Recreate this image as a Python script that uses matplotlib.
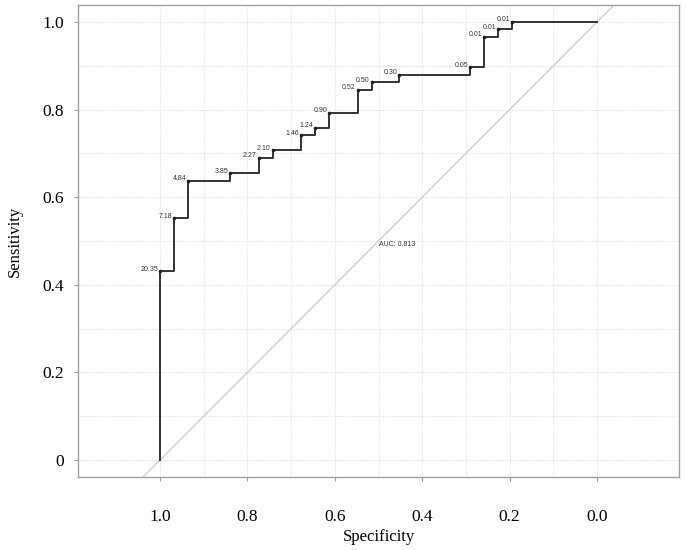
import matplotlib
matplotlib.use('Agg')
import matplotlib.pyplot as plt
import numpy as np

# ROC curve (corner points of each step)
specificity = [1.0, 1.0, 0.968, 0.935, 0.839, 0.774, 0.742, 0.677, 0.645,
               0.613, 0.548, 0.516, 0.452, 0.290, 0.258, 0.226, 0.194, 0.0]
sensitivity = [0.0, 0.431, 0.552, 0.638, 0.655, 0.690, 0.707, 0.741, 0.759,
               0.793, 0.845, 0.862, 0.879, 0.897, 0.966, 0.983, 1.0, 1.0]
thresholds = ['20.35', '7.18', '4.84', '3.85', '2.27', '2.10', '1.46', '1.24',
              '0.90', '0.52', '0.50', '0.30', '0.05', '0.01', '0.01', '0.01']
auc_text = 'AUC: 0.813'

tick_vals = [1.0, 0.8, 0.6, 0.4, 0.2, 0.0]
x_tick_labels = ['1.0', '0.8', '0.6', '0.4', '0.2', '0.0']
y_tick_labels = ['0', '0.2', '0.4', '0.6', '0.8', '1.0']
grid_vals = np.round(np.arange(0, 1.01, 0.1), 1)

fig = plt.figure(figsize=(6.86, 5.5), dpi=100)
ax = fig.add_axes([0.1137, 0.1327, 0.8761, 0.8582])

for g in grid_vals:
    ax.axvline(g, color='#e2e2e2', lw=0.8, ls=(0, (1, 1)), zorder=0)
    ax.axhline(g, color='#e2e2e2', lw=0.8, ls=(0, (1, 1)), zorder=0)

ax.axline((1, 0), (0, 1), color='#c8c8c8', lw=0.9, zorder=1)

ax.plot(specificity, sensitivity, drawstyle='steps-post', color='#333333',
        lw=1.4, zorder=2)

pts_x = specificity[1:-1]
pts_y = sensitivity[1:-1]
ax.plot(pts_x, pts_y, 'o', color='#222222', ms=1.6, zorder=3)
for x, y, t in zip(pts_x, pts_y, thresholds):
    ax.annotate(t, (x, y), xytext=(-1.5, 1.5), textcoords='offset points',
                ha='right', va='center', fontsize=5, color='#333333',
                family='Liberation Sans')

ax.text(0.499, 0.493, auc_text, ha='left', va='center', fontsize=5,
        color='#333333', family='Liberation Sans')

ax.set_xlim(1.1876, -0.1876)
ax.set_ylim(-0.0388, 1.0388)

ax.set_xticks(tick_vals)
ax.set_xticklabels(x_tick_labels)
ax.set_yticks(tick_vals[::-1])
ax.set_yticklabels(y_tick_labels)

for lab in ax.get_xticklabels() + ax.get_yticklabels():
    lab.set_family('Liberation Serif')
    lab.set_fontsize(12.5)
ax.tick_params(axis='x', length=3, color='#999999', pad=20)
ax.tick_params(axis='y', length=3, color='#999999', pad=7)

for s in ax.spines.values():
    s.set_color('#a0a0a0')
    s.set_linewidth(1.0)

ax.set_xlabel('Specificity', family='Liberation Serif', fontsize=12, labelpad=3)
ax.set_ylabel('Sensitivity', family='Liberation Serif', fontsize=12, labelpad=14)

fig.savefig('out.png', dpi=100)
